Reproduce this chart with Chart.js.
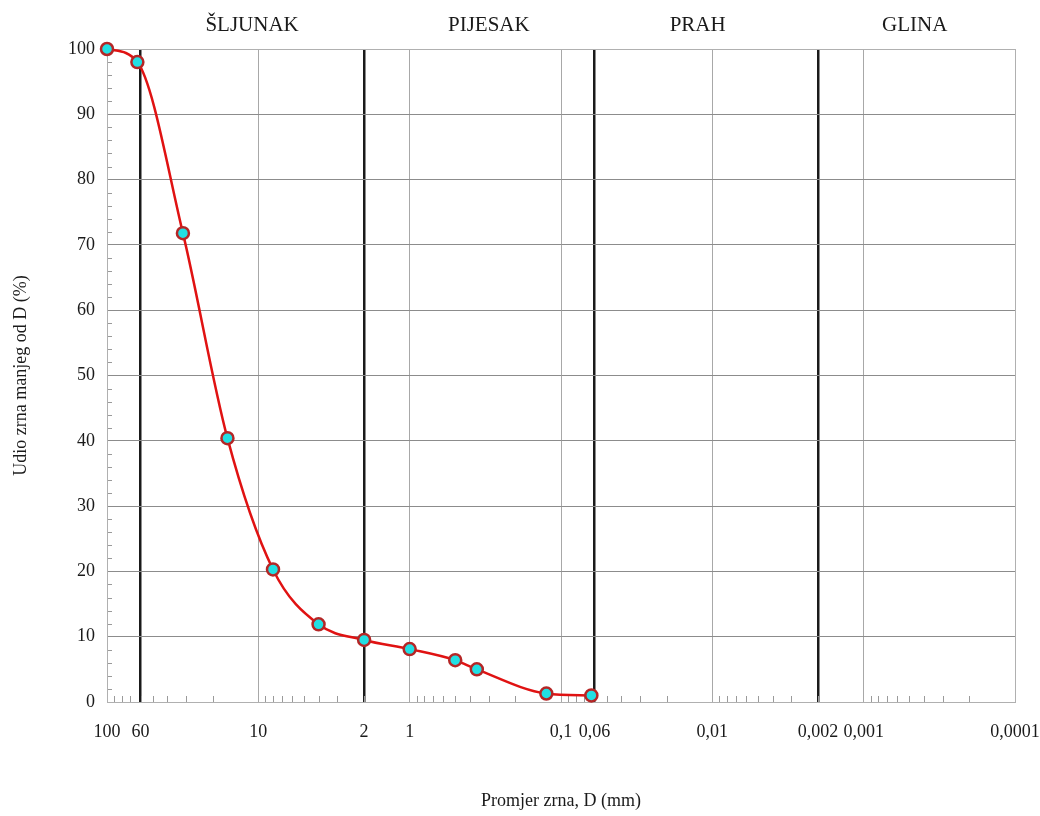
<!DOCTYPE html>
<html>
<head>
<meta charset="utf-8">
<script src="https://cdn.jsdelivr.net/npm/chart.js@4.4.1/dist/chart.umd.min.js"></script>
<style>
  html, body { margin: 0; padding: 0; background: #fff; }
  canvas { display: block; }
</style>
</head>
<body>
<canvas id="grainChart" width="1040" height="816"></canvas>
<script>
// granulometrijska krivulja - vrijednosti ocitane sa slike
const grainSize = [100, 63, 31.5, 16, 8, 4, 2, 1, 0.5, 0.36, 0.125, 0.063];
const passing   = [100, 98, 71.8, 40.4, 20.3, 11.9, 9.5, 8.1, 6.4, 5.0, 1.3, 1.0];

const xTickValues = [100, 60, 10, 2, 1, 0.1, 0.06, 0.01, 0.002, 0.001, 0.0001];
const boundaries  = [60, 2, 0.06, 0.002];
const zoneNames   = ['ŠLJUNAK', 'PIJESAK', 'PRAH', 'GLINA'];
const zoneAnchors = [11, 0.3, 0.0125, 0.00046];

const serif = '"Liberation Serif", "DejaVu Serif", serif';

// sitne crtice na osima, bocne oznake i okvir
const decorations = {
  id: 'decorations',
  beforeDatasetsDraw(chart) {
    const { ctx, chartArea: a, scales: { x, y } } = chart;
    ctx.save();
    ctx.strokeStyle = '#9a9a9a';
    ctx.lineWidth = 1;
    ctx.beginPath();
    for (let e = -4; e < 2; e++) {
      for (let m = 2; m <= 9; m++) {
        const v = m * Math.pow(10, e);
        const px = Math.round(x.getPixelForValue(v)) + 0.5;
        ctx.moveTo(px, a.bottom);
        ctx.lineTo(px, a.bottom - 6);
      }
    }
    for (let v = 2; v < 100; v += 2) {
      if (v % 10 === 0) continue;
      const py = Math.round(y.getPixelForValue(v)) + 0.5;
      ctx.moveTo(a.left, py);
      ctx.lineTo(a.left + 5, py);
    }
    ctx.stroke();
    ctx.strokeStyle = '#b0b0b0';
    ctx.strokeRect(a.left + 0.5, a.top + 0.5, a.right - a.left, a.bottom - a.top);
    ctx.restore();
  },
  afterDraw(chart) {
    const { ctx, chartArea: a, scales: { x } } = chart;
    ctx.save();
    ctx.fillStyle = '#1a1a1a';
    ctx.font = '21px ' + serif;
    ctx.textAlign = 'center';
    ctx.textBaseline = 'middle';
    zoneNames.forEach((name, i) => {
      ctx.fillText(name, x.getPixelForValue(zoneAnchors[i]), a.top - 24);
    });
    ctx.restore();
  }
};

new Chart(document.getElementById('grainChart'), {
  type: 'line',
  data: {
    datasets: [{
      data: grainSize.map((d, i) => ({ x: d, y: passing[i] })),
      borderColor: '#e01212',
      borderWidth: 2.5,
      cubicInterpolationMode: 'monotone',
      pointRadius: 6,
      pointBorderWidth: 2.5,
      pointBackgroundColor: '#22dfe3',
      pointBorderColor: '#b52626',
      clip: false,
      fill: false
    }]
  },
  options: {
    responsive: false,
    animation: false,
    devicePixelRatio: 1,
    layout: { padding: { left: 0, right: 25, top: 49, bottom: 0 } },
    plugins: { legend: { display: false }, tooltip: { enabled: false } },
    scales: {
      x: {
        type: 'logarithmic',
        reverse: true,
        min: 0.0001,
        max: 100,
        afterFit: s => { s.height = 114; s.paddingLeft = 0; s.paddingRight = 0; },
        afterBuildTicks: s => { s.ticks = xTickValues.map(v => ({ value: v })); },
        border: { color: '#9a9a9a' },
        grid: {
          drawTicks: false,
          color: c => boundaries.includes(c.tick.value) ? '#1a1a1a' : '#a8a8a8',
          lineWidth: c => boundaries.includes(c.tick.value) ? 2.5 : 1
        },
        ticks: {
          autoSkip: false,
          maxRotation: 0,
          padding: 19,
          color: '#1a1a1a',
          font: { family: serif, size: 18 },
          callback: v => String(v).replace('.', ',')
        },
        title: {
          display: true,
          text: 'Promjer zrna, D (mm)',
          color: '#1a1a1a',
          font: { family: serif, size: 18 },
          padding: { top: 0, bottom: 4 }
        }
      },
      y: {
        min: 0,
        max: 100,
        afterFit: s => { s.width = 107; s.paddingTop = 0; s.paddingBottom = 0; },
        border: { color: '#9a9a9a' },
        grid: { drawTicks: false, color: '#8c8c8c' },
        ticks: {
          stepSize: 10,
          padding: 12,
          color: '#1a1a1a',
          font: { family: serif, size: 18 }
        },
        title: {
          display: true,
          text: 'Udio zrna manjeg od D (%)',
          color: '#1a1a1a',
          font: { family: serif, size: 18 },
          padding: { top: 10, bottom: 0 }
        }
      }
    }
  },
  plugins: [decorations]
});
</script>
</body>
</html>
